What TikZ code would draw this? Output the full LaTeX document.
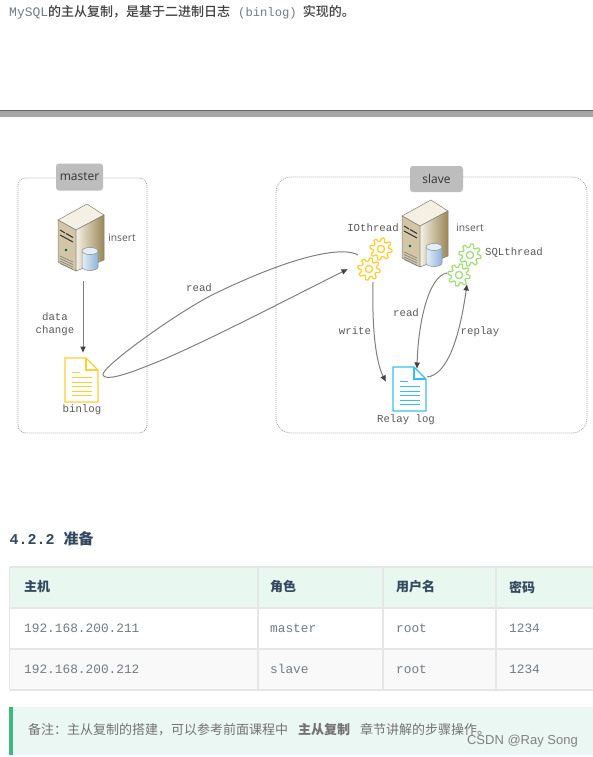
\documentclass[tikz,border=0pt]{standalone}
\usepackage{fontspec}
\usepackage{xcolor}
\setmainfont{Liberation Sans}
\setsansfont{Open Sans}
\setmonofont{Liberation Mono}
\newfontfamily\cjk{Noto Sans CJK SC}
\newfontfamily\cjkmed{Noto Sans CJK SC Medium}
\usetikzlibrary{arrows.meta,positioning,calc}
\definecolor{linegray}{HTML}{808080}
\definecolor{dotgray}{HTML}{A6A6A6}
\definecolor{tagfill}{HTML}{BDBDBD}
\definecolor{labelgray}{HTML}{5A5A5A}
\definecolor{docyellow}{HTML}{FFCE33}
\definecolor{docblue}{HTML}{38BDF0}
\definecolor{geargreen}{HTML}{A5DC78}
\definecolor{headfill}{HTML}{E8F7F0}
\definecolor{evenfill}{HTML}{F9F9F9}
\definecolor{gridgray}{HTML}{E4E6E8}
\definecolor{titleblue}{HTML}{34495E}
\definecolor{cellgray}{HTML}{737B84}
\definecolor{notefill}{HTML}{EBF7F3}
\definecolor{notebar}{HTML}{3CB982}
\definecolor{caselight}{HTML}{F5F0E4}
\definecolor{casetan}{HTML}{D2C6A6}
\definecolor{casedark}{HTML}{9A8758}
\definecolor{diskblue}{HTML}{8FB4D6}
\definecolor{diskpale}{HTML}{E4EEF6}
\tikzset{
  hostbox/.style={draw=dotgray,line width=0.8pt,dash pattern=on 1pt off 1pt,rounded corners=#1},
  hosttag/.style={fill=tagfill,rounded corners=3pt,inner sep=0pt,text=black!80,font=\sffamily\fontsize{12}{14}\selectfont},
  monolabel/.style={text=labelgray,font=\ttfamily\fontsize{10.7}{13.5}\selectfont,align=center,inner sep=0pt},
  sanslabel/.style={text=labelgray,font=\sffamily\fontsize{10.3}{12}\selectfont,inner sep=0pt},
  flow/.style={draw=linegray,line width=1pt,-{Latex[length=6.5pt,width=6pt,black!75]}},
  gridline/.style={draw=gridgray,line width=1.6pt},
  cellhead/.style={anchor=west,inner sep=0pt,text=titleblue,font=\cjk\bfseries\fontsize{13}{15}\selectfont},
  cellmono/.style={anchor=west,inner sep=0pt,text=cellgray,font=\ttfamily\fontsize{12.8}{15}\selectfont},
  pics/gearicon/.style={code={
    \draw[#1,line width=1.3pt,line join=round] plot[domain=0:360,samples=129] ({\x}:{9.4+1.7*max(min(1.6*sin(8*\x),1),-1)}) -- cycle;
    \draw[#1,line width=1.3pt] (0,0) circle (3.6);
  }},
  pics/docicon/.style={code={
    \draw[#1,line width=1.4pt,line join=miter,fill=white] (0,0) -- (21,0) -- (33,12) -- (33,44) -- (0,44) -- cycle;
    \draw[#1,line width=1.4pt] (21,0) -- (21,12) -- (33,12);
    \draw[#1,line width=1.2pt] (6.7,14.7) -- (15,14.7);
    \foreach \y in {19.7,24.2,28.7,33.2,37.7}
      \draw[#1,line width=1.2pt] (6.7,\y) -- (27.3,\y);
  }},
  pics/servericon/.style={code={
    % case
    \draw[black!50,line width=0.5pt,fill=caselight] (0,0) -- (17,11) -- (-11,26) -- (-29,16) -- cycle;
    \draw[black!50,line width=0.5pt,fill=casetan] (-29,16) -- (-11,26) -- (-11,67) -- (-29,58) -- cycle;
    \draw[black!50,line width=0.5pt,left color=caselight,right color=casedark] (-11,26) -- (17,11) -- (17,56) -- (-11,67) -- cycle;
    % drive bays and vents
    \draw[black!80,line width=1pt] (-27,26) -- (-22,29) (-21,29.5) -- (-14,33.5) (-27,31) -- (-14,38);
    \fill[teal!70!black] (-21,46) circle (1.3);
    \foreach \y in {52,54.5,57,59.5}
      \draw[black!50,line width=0.6pt] (-27,\y) -- (-14,\y+6);
    % disk
    \draw[black!45,line width=0.5pt,left color=diskpale,right color=diskblue] (-5,47) -- (-5,63) arc[start angle=180,end angle=0,x radius=8,y radius=3.5] -- (11,47) -- cycle;
    \draw[black!45,line width=0.5pt,fill=diskpale] (3,47) ellipse (8 and 3.5);
  }}
}
\begin{document}
\begin{tikzpicture}[x=1pt,y=-1pt]
  \useasboundingbox (0,0) rectangle (593,757);
  \fill[white] (0,0) rectangle (593,757);
  % top line and rule
  \node[anchor=west,inner sep=0pt,text=black!75] (intro) at (9,12.5) {\fontsize{13}{15}\selectfont\textcolor{cellgray}{\ttfamily MySQL}\cjkmed 的主从复制，是基于二进制日志\hspace{8pt}\textcolor{cellgray}{\ttfamily\fontsize{12.2}{15}\selectfont (binlog)}\hspace{6pt}实现的。};
  \fill[black!35] (0,111) rectangle (593,117);
  \fill[black!60] (0,110) rectangle (593,111.5);
  % hosts
  \draw[hostbox=8pt] (18,178) rectangle (147,433);
  \draw[hostbox=15pt] (276,177) rectangle (587,433);
  \node[hosttag,minimum width=47pt,minimum height=27pt] (masterTag) at (79.5,177) {master};
  \node[hosttag,minimum width=53pt,minimum height=26pt] (slaveTag) at (436.5,179) {slave};
  \pic at (87,204) {servericon};
  \pic at (431,200) {servericon};
  \node[sanslabel] (masterInsert) at (122,238) {insert};
  \node[sanslabel] (slaveInsert) at (470,228) {insert};
  \pic at (65,358) {docicon=docyellow};
  \pic at (393,367) {docicon=docblue};
  \pic at (381,249) {gearicon=docyellow};
  \pic at (369,269) {gearicon=docyellow};
  \pic at (470,255) {gearicon=geargreen};
  \pic at (459,275) {gearicon=geargreen};
  % free ends of the connectors
  \coordinate (serverBottom) at (83,281);
  \coordinate (binlogTop) at (83,353);
  \coordinate (ioTop) at (358,255);
  \coordinate (ioLeft) at (348,269);
  \coordinate (binlogTurn) at (103,375);
  \coordinate (ioBottom) at (373,282);
  \coordinate (relayLeft) at (386,382);
  \coordinate (sqlLeft) at (447,273);
  \coordinate (relayTop) at (417,369);
  \coordinate (relayRight) at (427,377);
  \coordinate (sqlBottom) at (467,284);
  \draw[flow] (serverBottom) -- (binlogTop);
  \draw[flow] (ioTop) .. controls (345,247) and (300,252) .. (212,295)
    .. controls (175,314) and (100,368) .. (binlogTurn)
    .. controls (105,381) and (125,375) .. (147,366)
    .. controls (190,350) and (280,303) .. (ioLeft);
  \draw[flow] (ioBottom) .. controls (372,325) and (375,360) .. (relayLeft);
  \draw[flow] (sqlLeft) .. controls (428,276) and (418,325) .. (relayTop);
  \draw[flow] (relayRight) .. controls (448,375) and (460,335) .. (sqlBottom);
  % labels
  \node[monolabel] (dataChange) at (55,324) {data\\change};
  \node[monolabel] (binlogLabel) at (82,410) {binlog};
  \node[monolabel] (readLabel) at (199,288) {read};
  \node[monolabel] (ioLabel) at (373,228) {IOthread};
  \node[monolabel] (sqlLabel) at (514,253) {SQLthread};
  \node[monolabel] (writeLabel) at (355,331) {write};
  \node[monolabel] (readSlave) at (406,313) {read};
  \node[monolabel] (replayLabel) at (480,332) {replay};
  \node[monolabel] (relayLabel) at (406,420) {Relay log};
  % section title
  \node[anchor=west,inner sep=0pt,text=titleblue] (sectionTitle) at (9.5,538.5) {\fontsize{15}{17}\selectfont\ttfamily\bfseries 4.2.2\hspace{9pt}\cjk\bfseries 准备};
  % table
  \fill[headfill] (10,567) rectangle (593,608);
  \fill[evenfill] (10,649) rectangle (593,690);
  \foreach \y in {567,608,649,690}
    \draw[gridline] (9.5,\y) -- (593,\y);
  \foreach \x in {9.5,258,383,496}
    \draw[gridline] (\x,567) -- (\x,690);
  \node[cellhead] (headHost) at (24,587) {主机};
  \node[cellhead] (headRole) at (270,587) {角色};
  \node[cellhead] (headUser) at (396,587) {用户名};
  \node[cellhead] (headPass) at (509,587) {密码};
  \foreach \y/\ip/\role in {628/211/master,669/212/slave}{
    \node[cellmono] (ip\ip) at (24,\y) {192.168.200.\ip};
    \node[cellmono] (role\ip) at (270,\y) {\role};
    \node[cellmono] (user\ip) at (396,\y) {root};
    \node[cellmono] (pass\ip) at (509,\y) {1234};
  }
  % note
  \fill[notefill] (9,707) rectangle (593,755);
  \fill[notebar] (9,707) rectangle (13,755);
  \node[anchor=west,inner sep=0pt,text=black!55] (noteText) at (28,730) {\cjk\fontsize{13}{15}\selectfont 备注：主从复制的搭建，可以参考前面课程中\hspace{10pt}{\bfseries 主从复制}\hspace{10pt}章节讲解的步骤操作。};
  \node[anchor=east,inner sep=0pt,text=black!50] (watermark) at (578,741) {\fontsize{13}{15}\selectfont CSDN @Ray Song};
\end{tikzpicture}
\end{document}
